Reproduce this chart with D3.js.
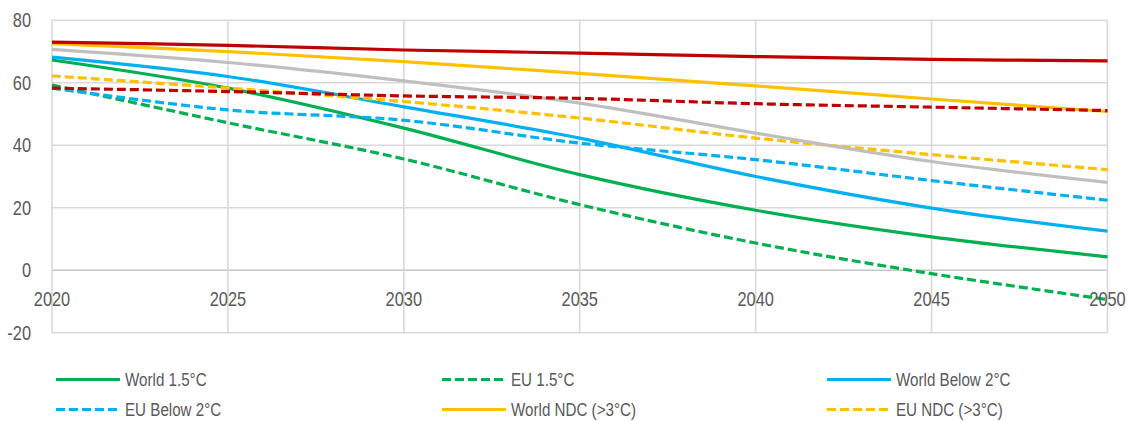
<!DOCTYPE html>
<html>
<head>
<meta charset="utf-8">
<script src="https://cdn.jsdelivr.net/npm/d3@7"></script>
<style>
  html, body { margin: 0; padding: 0; background: #fff; }
  svg { display: block; }
  text { font-family: "Liberation Sans", Arial, sans-serif; fill: #595959; }
</style>
</head>
<body>
<svg id="chart" width="1129" height="421"></svg>
<script>
const years = [2020, 2025, 2030, 2035, 2040, 2045, 2050];
const yTicks = [-20, 0, 20, 40, 60, 80];

const world15      = [67.3, 58.3, 45.5, 30.6, 19.2, 10.7, 4.3];
const eu15         = [59.3, 47.2, 35.6, 21.0, 8.7, -1.1, -9.4];
const worldBelow2  = [68.2, 62.0, 52.3, 42.3, 30.0, 19.9, 12.5];
const euBelow2     = [58.3, 51.3, 48.0, 40.7, 35.4, 28.7, 22.4];
const worldNDC     = [72.5, 70.0, 66.8, 63.0, 59.0, 54.8, 50.8];
const euNDC        = [62.2, 58.3, 54.0, 48.7, 42.3, 37.0, 32.2];
const worldCurrent = [73.0, 72.0, 70.5, 69.5, 68.4, 67.5, 67.0];
const euCurrent    = [58.3, 57.2, 55.8, 55.0, 53.3, 52.2, 51.1];
const otherGray    = [70.7, 66.5, 60.6, 53.5, 43.9, 34.8, 28.1];

const seriesNames = ["World 1.5°C", "EU 1.5°C", "World Below 2°C", "EU Below 2°C", "World NDC (>3°C)", "EU NDC (>3°C)", "", "", ""];
const seriesValues = [world15, eu15, worldBelow2, euBelow2, worldNDC, euNDC, otherGray, euCurrent, worldCurrent];
const seriesColors = ["#00b050", "#00b050", "#00b0f0", "#00b0f0", "#ffc000", "#ffc000", "#bfbfbf", "#c00000", "#c00000"];
const seriesDashed = [false, true, false, true, false, true, false, true, false];

const svg = d3.select("#chart");
const x = d3.scaleLinear().domain([2020, 2050]).range([52, 1107.5]);
const y = d3.scaleLinear().domain([-20, 80]).range([332.7, 20.3]);
const SX = 0.82; // condensed look of the reference font

// gridlines
const g = svg.append("g");
g.selectAll("line.h").data(yTicks).enter().append("line")
  .attr("x1", x(2020)).attr("x2", x(2050))
  .attr("y1", d => y(d)).attr("y2", d => y(d))
  .attr("stroke", d => d === 0 ? "#c6c6c6" : "#d9d9d9").attr("stroke-width", 1.6);
g.selectAll("line.v").data(years).enter().append("line")
  .attr("x1", d => x(d)).attr("x2", d => x(d))
  .attr("y1", y(80)).attr("y2", y(-20))
  .attr("stroke", "#d9d9d9").attr("stroke-width", 1.6);

// y tick labels
svg.append("g").selectAll("text").data(yTicks).enter().append("text")
  .attr("transform", d => `translate(31,${y(d)}) scale(${SX},1)`)
  .attr("dy", "0.35em")
  .attr("text-anchor", "end").attr("font-size", 20)
  .text(d => d);

// lines
const line = d3.line().x((d, i) => x(years[i])).y(d => y(d)).curve(d3.curveCatmullRom.alpha(0.5));
svg.append("g").selectAll("path").data(seriesValues).enter().append("path")
  .attr("d", d => line(d))
  .attr("fill", "none")
  .attr("stroke", (d, i) => seriesColors[i])
  .attr("stroke-width", 3.2)
  .attr("stroke-dasharray", (d, i) => seriesDashed[i] ? "9,4" : null);

// x tick labels (drawn on top, like the reference)
svg.append("g").selectAll("text").data(years).enter().append("text")
  .attr("transform", d => `translate(${x(d)},${y(0) + 29}) scale(${SX},1)`)
  .attr("dy", "0.35em")
  .attr("text-anchor", "middle").attr("font-size", 20)
  .text(d => d);

// legend
const legendItems = [0, 1, 2, 3, 4, 5];
const colX = [56, 442, 827];
const rowY = [379.5, 409.5];
const lg = svg.append("g").selectAll("g").data(legendItems).enter().append("g")
  .attr("transform", (d, k) => `translate(${colX[k % 3]},${rowY[Math.floor(k / 3)]})`);
lg.append("line").attr("x1", 0).attr("x2", 64).attr("y1", 0).attr("y2", 0)
  .attr("stroke", d => seriesColors[d]).attr("stroke-width", 3.2)
  .attr("stroke-dasharray", d => seriesDashed[d] ? "9,4" : null);
lg.append("text")
  .attr("transform", `translate(69,0) scale(${SX},1)`)
  .attr("dy", "0.35em")
  .attr("font-size", 18.5).text(d => seriesNames[d]);
</script>
</body>
</html>
